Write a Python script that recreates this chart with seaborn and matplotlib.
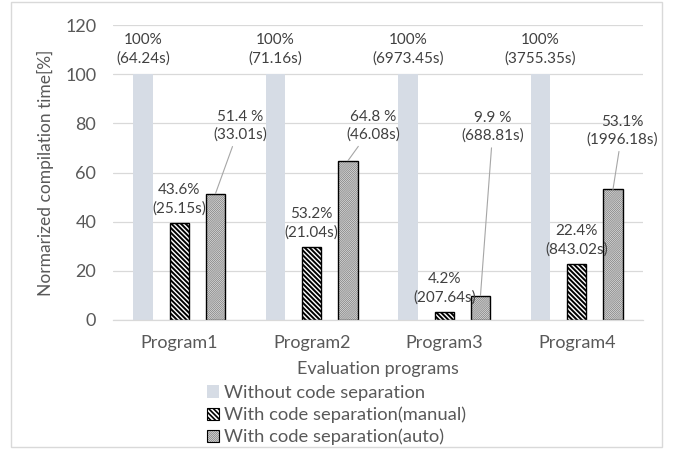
import numpy as np
import pandas as pd
import matplotlib
matplotlib.use("Agg")
import matplotlib.pyplot as plt
import seaborn as sns
from matplotlib.patches import Rectangle, Patch
from matplotlib.legend_handler import HandlerTuple

# ---- data ----
programs = ["Program1", "Program2", "Program3", "Program4"]
series = ["Without code separation", "With code separation(manual)", "With code separation(auto)"]
without_sep = [100, 100, 100, 100]
manual_sep = [39.3, 29.5, 3.1, 22.6]
auto_sep = [51.4, 64.8, 9.9, 53.1]
without_labels = ["100%\n(64.24s)", "100%\n(71.16s)", "100%\n(6973.45s)", "100%\n(3755.35s)"]
manual_labels = ["43.6%\n(25.15s)", "53.2%\n(21.04s)", "4.2%\n(207.64s)", "22.4%\n(843.02s)"]
auto_labels = ["51.4 %\n(33.01s)", "64.8 %\n(46.08s)", "9.9 %\n(688.81s)", "53.1%\n(1996.18s)"]
y_ticks = [0, 20, 40, 60, 80, 100, 120]

# ---- layout for the callout labels of the auto series ----
auto_label_dx = [0.185, 0.19, 0.095, 0.07]
auto_label_y = [79, 79, 78.5, 77]

sns.set_style("white")
plt.rcParams["font.family"] = ["Lato", "DejaVu Sans"]
plt.rcParams["hatch.linewidth"] = 1.0

TXT = "#404040"
TICK = "#595959"
MANUAL_HATCH = "\\" * 7
AUTO_HATCH = "/" * 16
AUTO_FACE = "#E0E0E0"
AUTO_HATCH_COLOR = "#7A7A7A"

df = pd.DataFrame({
    "program": programs * 3,
    "series": np.repeat(series, len(programs)),
    "value": without_sep + manual_sep + auto_sep,
})

fig = plt.figure(figsize=(6.75, 4.49), dpi=100)
ax = fig.add_axes([113 / 675, 1 - 320 / 449, 530 / 675, 295 / 449])

sns.barplot(data=df, x="program", y="value", hue="series", order=programs,
            hue_order=series, palette=["#D6DCE5", "#FFFFFF", AUTO_FACE],
            width=0.82, gap=0.47, saturation=1, errorbar=None,
            legend=False, ax=ax)


def set_hlw(p, w):
    if hasattr(p, "set_hatch_linewidth"):
        p.set_hatch_linewidth(w)


c_without, c_manual, c_auto = ax.containers[:3]
for b in c_without:
    b.set_edgecolor("none")
    b.set_linewidth(0)
for b in c_manual:
    b.set_facecolor("white")
    b.set_edgecolor("black")
    b.set_hatch(MANUAL_HATCH)
    b.set_linewidth(1.0)
    set_hlw(b, 1.4)
for b in c_auto:
    b.set_facecolor(AUTO_FACE)
    b.set_edgecolor(AUTO_HATCH_COLOR)
    b.set_hatch(AUTO_HATCH)
    b.set_linewidth(0)
    set_hlw(b, 0.5)
    # black outline on top of the gray hatched bar
    ax.add_patch(Rectangle((b.get_x(), b.get_y()), b.get_width(), b.get_height(),
                           fill=False, edgecolor="black", lw=1.0, zorder=b.get_zorder() + 0.1))

ax.set_ylim(0, 120)
ax.set_yticks(y_ticks)
ax.grid(axis="y", color="#D9D9D9", lw=0.9)
ax.set_axisbelow(True)
for s in ["top", "right", "left"]:
    ax.spines[s].set_visible(False)
ax.spines["bottom"].set_color("#D9D9D9")
ax.spines["bottom"].set_linewidth(0.9)
ax.tick_params(axis="both", length=0, labelsize=13, colors=TICK)
ax.tick_params(axis="x", pad=11)
ax.tick_params(axis="y", pad=12)
ax.set_xlabel("Evaluation programs", fontsize=13, color=TICK, labelpad=7)
ax.set_ylabel("Normarized compilation time[%]", fontsize=12.5, color=TICK, labelpad=8)

for i, b in enumerate(c_without):
    x = b.get_x() + b.get_width() / 2
    ax.text(x, b.get_height() + 10, without_labels[i], ha="center", va="center",
            fontsize=11, color=TXT, linespacing=1.35)
for i, b in enumerate(c_manual):
    x = b.get_x() + b.get_width() / 2
    ax.text(x, b.get_height() + 9.8, manual_labels[i], ha="center", va="center",
            fontsize=11, color=TXT, linespacing=1.35)
for i, b in enumerate(c_auto):
    x = b.get_x() + b.get_width() / 2
    ax.annotate(auto_labels[i], xy=(x, b.get_height()),
                xytext=(x + auto_label_dx[i], auto_label_y[i]),
                ha="center", va="center", fontsize=11, color=TXT, linespacing=1.35,
                arrowprops=dict(arrowstyle="-", color="#A6A6A6", lw=0.8,
                                shrinkA=1, shrinkB=0))

h_without = Patch(facecolor="#D6DCE5", edgecolor="none")
h_manual = Patch(facecolor="white", edgecolor="black", hatch=MANUAL_HATCH, lw=0.8)
h_auto = (Patch(facecolor=AUTO_FACE, edgecolor=AUTO_HATCH_COLOR, hatch=AUTO_HATCH, lw=0),
          Patch(fill=False, edgecolor="black", lw=0.8))
leg = fig.legend([h_without, h_manual, h_auto], series, loc="upper left",
                 bbox_to_anchor=(207 / 675, 1 - 385 / 449),
                 frameon=False, fontsize=13.2, handlelength=0.65, handleheight=0.65,
                 handletextpad=0.3, labelspacing=0.3, borderpad=0, borderaxespad=0,
                 labelcolor=TICK, handler_map={tuple: HandlerTuple(ndivide=1, pad=0)})

# apply hatch line widths to legend handles
for art in leg.findobj(Rectangle):
    h = art.get_hatch()
    if h == MANUAL_HATCH:
        set_hlw(art, 1.2)
    elif h == AUTO_HATCH:
        set_hlw(art, 0.5)

fig.add_artist(Rectangle((11 / 675, 2 / 449), 651 / 675, 445 / 449,
                         transform=fig.transFigure, fill=False,
                         edgecolor="#D9D9D9", lw=1))

fig.savefig("out.png", dpi=100)
